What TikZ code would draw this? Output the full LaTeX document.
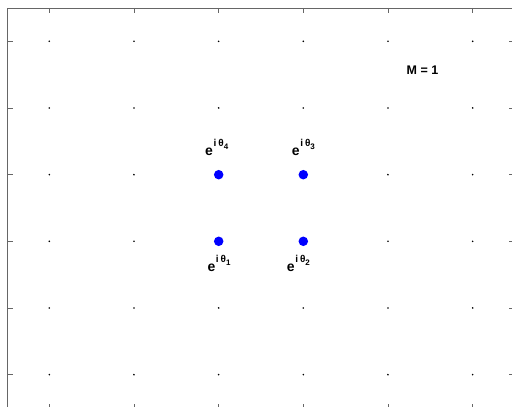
\documentclass[tikz,border=0pt]{standalone}
\usepackage{fontspec}
\setmainfont{Liberation Sans}
\usepackage{tikz}

\tikzset{
  axis/.style={black!60,line width=0.8pt},
  bdot/.style={circle,fill=blue,inner sep=0pt,minimum size=9.5pt},
  lbl/.style={font=\bfseries\fontsize{14}{16}\selectfont,inner sep=0pt,anchor=base west}
}
\newcommand{\eith}[1]{e\hspace{0.6pt}\raisebox{9pt}{\fontsize{10}{11}\selectfont i\hspace{2pt}θ}\raisebox{6.5pt}{\fontsize{8}{9}\selectfont #1}}

\begin{document}
\begin{tikzpicture}[x=1pt,y=1pt]
			\useasboundingbox (0,0) rectangle (512,407);
			\clip (0,0) rectangle (512,407);
			\foreach \i in {0,...,5}{
				\foreach \j in {0,...,5}{
					\fill ({49.3+84.67*\i},{365.7-66.67*\j}) circle (0.9);
				}
				\draw[axis] ({49.3+84.67*\i},399) -- ++(0,-5);
				\draw[axis] ({49.3+84.67*\i},-2) -- ++(0,5);
				\draw[axis] (7,{365.7-66.67*\i}) -- ++(5.5,0);
				\draw[axis] (514,{365.7-66.67*\i}) -- ++(-5.5,0);
			}
			\draw[axis] (514,399) -- (7,399) -- (7,-2);
			\node[bdot] (p4) at (218.7,232.3) {};
			\node[bdot] (p3) at (303.3,232.3) {};
			\node[bdot] (p1) at (218.7,165.7) {};
			\node[bdot] (p2) at (303.3,165.7) {};
			\node[lbl] (l4) at ([shift={(-13.7,19)}]p4.center) {\eith{4}};
			\node[lbl] (l3) at ([shift={(-11.6,19)}]p3.center) {\eith{3}};
			\node[lbl] (l1) at ([shift={(-11.4,-30.4)}]p1.center) {\eith{1}};
			\node[lbl] (l2) at ([shift={(-16.6,-30.4)}]p2.center) {\eith{2}};
			\node[lbl,font=\bfseries\fontsize{12.5}{14}\selectfont] (m) at (406.5,332) {M = 1};
		\end{tikzpicture}
\end{document}
